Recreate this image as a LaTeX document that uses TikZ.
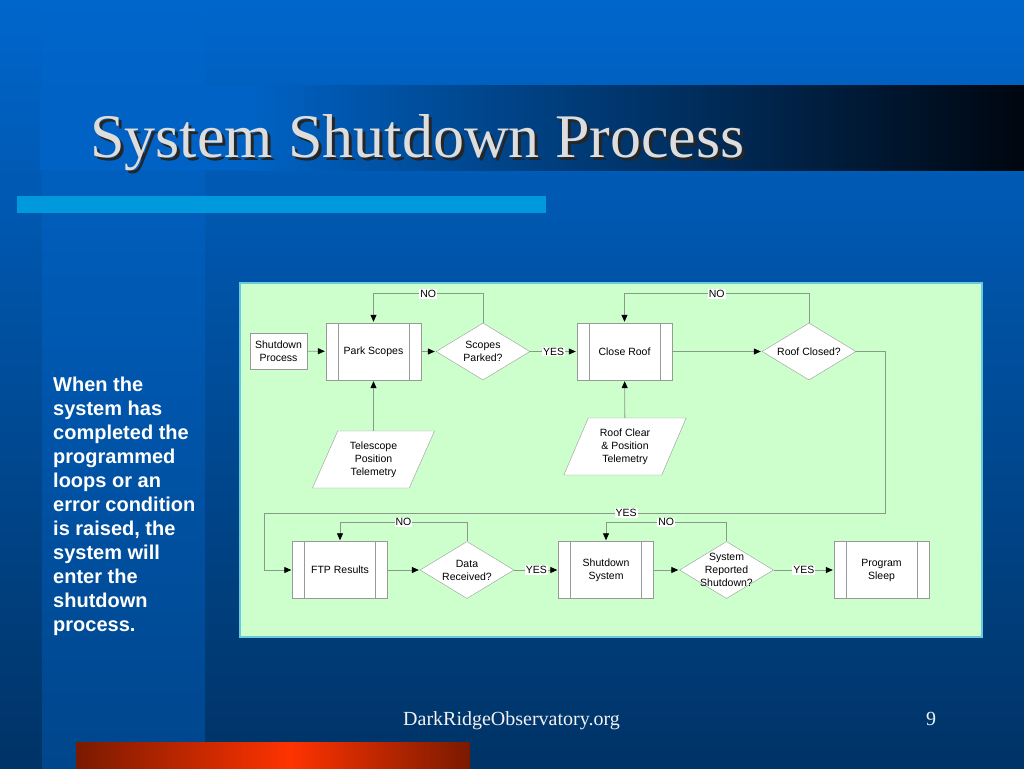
\documentclass[tikz,border=0pt]{standalone}
\usepackage{fontspec}
\setmainfont{Liberation Serif}
\newfontfamily\flowfont{Liberation Sans}
\usetikzlibrary{arrows.meta,shapes.geometric,calc}

\definecolor{bgtop}{HTML}{0066CC}
\definecolor{bgbottom}{HTML}{003366}
\definecolor{colbottom}{HTML}{00468C}
\definecolor{bandblue}{HTML}{0062C4}
\definecolor{banddark}{HTML}{00060F}
\definecolor{barcyan}{HTML}{0099DD}
\definecolor{panelgreen}{HTML}{CCFFCC}
\definecolor{panelrim}{HTML}{66CCDD}
\definecolor{linegray}{HTML}{8A9A8A}
\definecolor{boxgray}{HTML}{999999}
\definecolor{titlegray}{HTML}{DDDDDD}
\definecolor{reddark}{HTML}{7A1A00}
\definecolor{redbright}{HTML}{FF3300}

\tikzset{flowtext/.style={font=\flowfont\fontsize{10.5}{13}\selectfont, align=center},
termbox/.style={draw=boxgray, fill=white, minimum width=57pt, minimum height=36pt, inner sep=0pt, flowtext},
procbox/.style={draw=boxgray, fill=white, minimum width=95pt, minimum height=57pt, inner sep=0pt, flowtext,
path picture={\draw[boxgray] ([xshift=12pt]path picture bounding box.north west) -- ([xshift=12pt]path picture bounding box.south west);
\draw[boxgray] ([xshift=-12pt]path picture bounding box.north east) -- ([xshift=-12pt]path picture bounding box.south east);}},
decision/.style={diamond, draw=boxgray, fill=white, minimum width=94pt, minimum height=57pt, inner sep=0pt, label={[flowtext]center:#1}},
datain/.style={trapezium, trapezium left angle=65, trapezium right angle=115, trapezium stretches=true, draw=boxgray, fill=white, minimum width=123pt, minimum height=57pt, inner sep=0pt, flowtext},
conn/.style={draw=linegray, line width=0.8pt},
arr/.style={conn, -{Triangle[length=7pt,width=6pt,fill=black,color=black]}, shorten >=1pt},
tag/.style={flowtext, fill=white, inner sep=1pt},
sidetext/.style={font=\flowfont\bfseries\fontsize{20}{24}\selectfont, text=white, inner sep=0pt}}

\begin{document}
\begin{tikzpicture}[x=1pt,y=-1pt]
\useasboundingbox (0,0) rectangle (1024,768);
% slide background
\shade[top color=bgtop, bottom color=bgbottom] (0,0) rectangle (1024,768);
\shade[top color=bgtop, bottom color=colbottom] (42,0) rectangle (205,768);
\fill[bandblue] (40,85) rectangle (250,170);
\shade[left color=bandblue, right color=banddark] (250,85) rectangle (1024,170);
\fill[barcyan] (17,196) rectangle (546,213);
\shade[left color=reddark, right color=redbright] (76,742) rectangle (290,768);
\shade[left color=redbright, right color=reddark] (290,742) rectangle (470,768);

\node[anchor=base west, inner sep=0pt, text=black!85, font=\fontsize{62}{70}\selectfont] (titleshadow) at (93,160) {System Shutdown Process};
\node[anchor=base west, inner sep=0pt, text=titlegray, font=\fontsize{62}{70}\selectfont] (title) at (90,157) {System Shutdown Process};

\foreach \txt [count=\i from 0] in {When the, system has, completed the, programmed, loops or an, error condition, {is raised, the}, system will, enter the, shutdown, process.}
\node[sidetext, anchor=base west] (side\i) at (53,391+24*\i) {\txt};

\node[anchor=base, inner sep=0pt, text=white!90!gray, font=\fontsize{20}{24}\selectfont] (site) at (511.5,725) {DarkRidgeObservatory.org};
\node[anchor=base, inner sep=0pt, text=white!90!gray, font=\fontsize{20}{24}\selectfont] (page) at (931,725) {9};

% flowchart panel
\draw[panelrim, line width=1.5pt, fill=panelgreen] (240,283) rectangle (982,637);

\node[termbox] (start) at (278.5,351) {Shutdown\\Process};
\node[procbox] (park) at (373.5,351.5) {Park Scopes};
\node[decision={Scopes\\Parked?}] (parked) at (483,351.5) {};
\node[procbox] (roof) at (624.5,351.5) {Close Roof};
\node[decision={Roof Closed?}] (closed) at (809,351.5) {};
\node[datain] (telscope) at (373.5,459.5) {Telescope\\Position\\Telemetry};
\node[datain] (telroof) at (625,446.5) {Roof Clear\\\& Position\\Telemetry};
\node[procbox] (ftp) at (340,570) {FTP Results};
\node[decision={Data\\Received?}] (received) at (467,570) {};
\node[procbox] (halt) at (606,570) {Shutdown\\System};
\node[decision={System\\Reported\\Shutdown?}] (reported) at (726.5,570) {};
\node[procbox] (sleep) at (881.5,570) {Program\\Sleep};

\coordinate (turnright) at (885,513);
\coordinate (turnleft) at (264,513);

\draw[arr] (start) -- (park);
\draw[arr] (park) -- (parked);
\draw[arr] (parked) -- node[tag]{YES} (roof);
\draw[arr] (parked.north) -- ++(0,-29) -| node[tag, pos=0.25]{NO} (park.north);
\draw[arr] (roof) -- (closed);
\draw[arr] (closed.north) -- ++(0,-29) -| node[tag, pos=0.25]{NO} (roof.north);
\draw[arr] (telscope) -- (park);
\draw[arr] (telroof) -- (roof);
\draw[arr] (closed.east) -| (turnright) -- node[tag, pos=0.417]{YES} (turnleft) |- (ftp.west);
\draw[arr] (ftp) -- (received);
\draw[arr] (received) -- node[tag]{YES} (halt);
\draw[arr] (received.north) -- ++(0,-19) -| node[tag, pos=0.25]{NO} (ftp.north);
\draw[arr] (halt) -- (reported);
\draw[arr] (reported) -- node[tag]{YES} (sleep);
\draw[arr] (reported.north) -- ++(0,-19) -| node[tag, pos=0.25]{NO} (halt.north);
\end{tikzpicture}
\end{document}
